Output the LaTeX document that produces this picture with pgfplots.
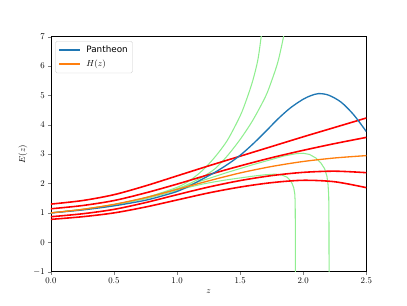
\documentclass[border=0pt]{standalone}
\usepackage{fontspec}
\usepackage{pgfplots}
\pgfplotsset{compat=1.18}
\newfontfamily\dejavu{DejaVu Sans}
\definecolor{tabblue}{HTML}{1F77B4}
\definecolor{taborange}{HTML}{FF7F0E}
\definecolor{lgreen}{HTML}{90EE90}
\begin{document}
\begin{tikzpicture}
\begin{axis}[
  scale only axis, width=4.96in, height=3.696in,
  xmin=0, xmax=2.5, ymin=-1, ymax=7,
  xtick={0,0.5,1,1.5,2,2.5}, ytick={-1,0,1,2,3,4,5,6,7},
  xticklabel style={/pgf/number format/.cd,fixed,fixed zerofill,precision=1},
  tick align=outside, xtick pos=bottom, ytick pos=left,
  major tick length=3.5pt,
  xlabel={$z$}, ylabel={$E(z)$},
  legend cell align=left,
  legend style={at={(0,1)}, anchor=north west, xshift=5pt, yshift=-5pt,
    draw=black!20, rounded corners=2pt, fill=white, row sep=3pt, inner sep=3.5pt,
    /tikz/every odd column/.style={column sep=4pt}},
  legend image code/.code={\draw[#1] (0pt,0pt) -- (24pt,0pt);},
]
% green curves
\addplot[lgreen, line width=1.2pt, smooth, forget plot] coordinates {
(0,1.0) (0.25,1.12) (0.5,1.28) (0.75,1.52) (1.0,1.87) (1.1,2.1) (1.2,2.44) (1.3,2.9) (1.4,3.48) (1.5,4.3) (1.55,4.85) (1.6,5.5) (1.64,6.2) (1.667,7.0) (1.685,7.6)};
\addplot[lgreen, line width=1.2pt, smooth, forget plot] coordinates {
(0,1.0) (0.25,1.12) (0.5,1.28) (0.75,1.51) (1.0,1.82) (1.1,2.0) (1.2,2.22) (1.3,2.5) (1.4,2.95) (1.5,3.5) (1.6,4.15) (1.7,4.95) (1.75,5.5) (1.8,6.15) (1.844,7.0) (1.86,7.5)};
\addplot[lgreen, line width=1.2pt, forget plot] coordinates {
(0,1.0) (0.25,1.11) (0.5,1.26) (0.75,1.48) (1.0,1.76) (1.1,1.88) (1.2,1.98) (1.3,2.06) (1.4,2.13) (1.5,2.19) (1.6,2.25) (1.7,2.3) (1.78,2.32) (1.83,2.29) (1.87,2.22) (1.895,2.12) (1.912,2.0) (1.925,1.85) (1.933,1.65) (1.936,1.4) (1.937,1.0) (1.938,-1.5)};
\addplot[lgreen, line width=1.2pt, forget plot] coordinates {
(0,1.0) (0.25,1.12) (0.5,1.28) (0.75,1.51) (1.0,1.82) (1.1,1.96) (1.2,2.1) (1.3,2.24) (1.4,2.38) (1.5,2.51) (1.6,2.64) (1.75,2.82) (1.85,2.94) (1.95,3.02) (2.0,3.03) (2.05,2.99) (2.1,2.87) (2.14,2.7) (2.17,2.5) (2.188,2.25) (2.197,1.95) (2.202,1.6) (2.204,1.0) (2.205,-1.5)};
% red curves
\addplot[red, line width=1.8pt, smooth, forget plot] coordinates {
(0,1.30) (0.25,1.42) (0.5,1.62) (0.75,1.92) (1.0,2.26) (1.25,2.6) (1.5,2.93) (1.75,3.26) (2.0,3.59) (2.25,3.91) (2.5,4.23)};
\addplot[red, line width=1.8pt, smooth, forget plot] coordinates {
(0,1.14) (0.25,1.25) (0.5,1.42) (0.75,1.68) (1.0,1.98) (1.25,2.3) (1.5,2.6) (1.75,2.88) (2.0,3.13) (2.25,3.36) (2.5,3.57)};
\addplot[red, line width=1.8pt, smooth, forget plot] coordinates {
(0,0.87) (0.25,0.97) (0.5,1.12) (0.75,1.35) (1.0,1.62) (1.25,1.88) (1.5,2.1) (1.75,2.27) (2.0,2.38) (2.25,2.42) (2.5,2.37)};
\addplot[red, line width=1.8pt, smooth, forget plot] coordinates {
(0,0.78) (0.25,0.87) (0.5,1.0) (0.75,1.2) (1.0,1.44) (1.25,1.68) (1.5,1.88) (1.75,2.03) (2.0,2.11) (2.25,2.06) (2.5,1.86)};
% Pantheon
\addplot[tabblue, line width=1.5pt, smooth, forget plot] coordinates {
(0,1.0) (0.25,1.1) (0.5,1.24) (0.75,1.43) (0.9,1.6) (1.0,1.73) (1.1,1.92) (1.2,2.15) (1.3,2.38) (1.4,2.65) (1.5,2.96) (1.6,3.34) (1.7,3.76) (1.8,4.2) (1.9,4.58) (2.0,4.87) (2.06,4.99) (2.12,5.06) (2.2,5.01) (2.3,4.77) (2.4,4.34) (2.5,3.77)};
% H(z)
\addplot[taborange, line width=1.5pt, smooth, forget plot] coordinates {
(0,1.0) (0.25,1.12) (0.5,1.29) (0.75,1.52) (1.0,1.8) (1.25,2.09) (1.5,2.36) (1.75,2.58) (2.0,2.75) (2.25,2.87) (2.5,2.95)};
\addlegendimage{tabblue, line width=1.7pt}
\addlegendentry{{\dejavu Pantheon}}
\addlegendimage{taborange, line width=1.7pt}
\addlegendentry{$H(z)$}
\end{axis}
\pgfresetboundingbox
\useasboundingbox ([xshift=-0.8in,yshift=-0.528in]current axis.south west) rectangle ([xshift=0.64in,yshift=0.576in]current axis.north east);
\end{tikzpicture}
\end{document}
